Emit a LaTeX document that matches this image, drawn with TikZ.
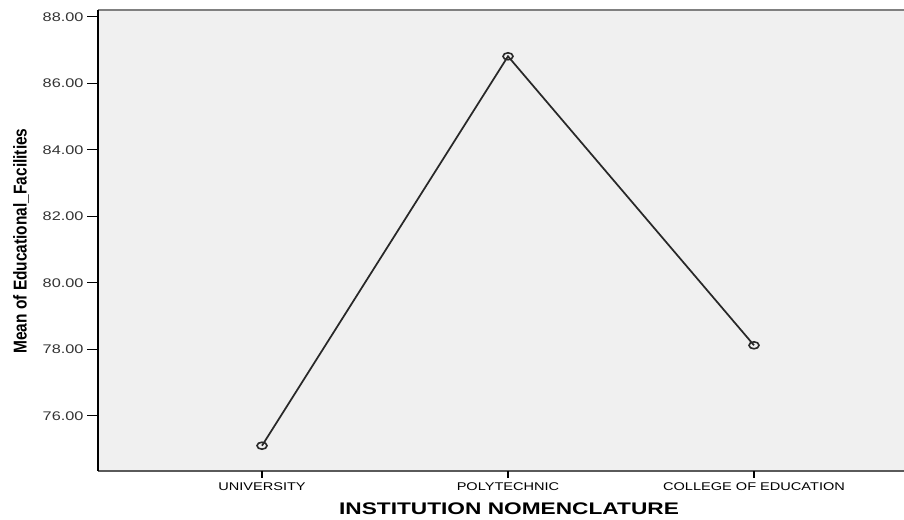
\documentclass[tikz,border=0pt]{standalone}
\usepackage{graphicx}
\usepackage{fontspec}
\setmainfont{Liberation Sans}

\definecolor{plotbg}{RGB}{240,240,240}
\definecolor{framegray}{RGB}{128,128,128}
\newcommand{\spss}[1]{\scalebox{1.3}[1]{#1}}

\tikzset{every picture/.style={line width=0.75pt}}

\begin{document}
\begin{tikzpicture}[x=0.75pt,y=0.75pt,yscale=-1,xscale=1]
  \useasboundingbox (0,0) rectangle (904,520);

  %Shape: Rectangle [id:plotarea]
  \fill [plotbg] (98,10) rectangle (904,471);
  %Straight Lines [id:topframe]
  \draw [color=framegray, line width=1.5]  (98,10.5) -- (904,10.5) ;
  %Straight Lines [id:xaxis]
  \draw [color=framegray!70!black, line width=1.5]  (98,471) -- (904,471) ;
  %Straight Lines [id:yaxis]
  \draw [line width=1.2]  (98,10) -- (98,471.5) ;

  %Straight Lines [id:yticks]
  \draw    (87,16.7) -- (98,16.7) ;
  \draw    (87,83.2) -- (98,83.2) ;
  \draw    (87,149.7) -- (98,149.7) ;
  \draw    (87,216.2) -- (98,216.2) ;
  \draw    (87,282.7) -- (98,282.7) ;
  \draw    (87,349.2) -- (98,349.2) ;
  \draw    (87,415.7) -- (98,415.7) ;
  %Straight Lines [id:xticks]
  \draw [line width=1.2]   (262,471) -- (262,478) ;
  \draw [line width=1.2]   (508,471) -- (508,478) ;
  \draw [line width=1.2]   (754,471) -- (754,478) ;

  % Data points
  \coordinate (univ) at (262,445.7);
  \coordinate (poly) at (508,56.3);
  \coordinate (coll) at (754,345.3);
  %Straight Lines [id:meanline]
  \draw [color={rgb, 255:red, 40; green, 40; blue, 40 }, line width=1.3]  (univ) -- (poly) -- (coll) ;
  %Shape: Ellipse [id:markers]
  \draw [color={rgb, 255:red, 40; green, 40; blue, 40 }, line width=1.2]  (univ) ellipse (5 and 3.5) ;
  \draw [color={rgb, 255:red, 40; green, 40; blue, 40 }, line width=1.2]  (poly) ellipse (5 and 3.5) ;
  \draw [color={rgb, 255:red, 40; green, 40; blue, 40 }, line width=1.2]  (coll) ellipse (5 and 3.5) ;

  % Text Node
  \draw (85,16.7) node (t88) [anchor=east][inner sep=0.75pt]  [font=\fontsize{9.4}{11}\selectfont, color=black!80] {\spss{88.00}};
  % Text Node
  \draw (85,83.2) node (t86) [anchor=east][inner sep=0.75pt]  [font=\fontsize{9.4}{11}\selectfont, color=black!80] {\spss{86.00}};
  % Text Node
  \draw (85,149.7) node (t84) [anchor=east][inner sep=0.75pt]  [font=\fontsize{9.4}{11}\selectfont, color=black!80] {\spss{84.00}};
  % Text Node
  \draw (85,216.2) node (t82) [anchor=east][inner sep=0.75pt]  [font=\fontsize{9.4}{11}\selectfont, color=black!80] {\spss{82.00}};
  % Text Node
  \draw (85,282.7) node (t80) [anchor=east][inner sep=0.75pt]  [font=\fontsize{9.4}{11}\selectfont, color=black!80] {\spss{80.00}};
  % Text Node
  \draw (85,349.2) node (t78) [anchor=east][inner sep=0.75pt]  [font=\fontsize{9.4}{11}\selectfont, color=black!80] {\spss{78.00}};
  % Text Node
  \draw (85,415.7) node (t76) [anchor=east][inner sep=0.75pt]  [font=\fontsize{9.4}{11}\selectfont, color=black!80] {\spss{76.00}};

  % Text Node
  \draw (262,487) node (lunivers) [inner sep=0.75pt]  [font=\fontsize{8.4}{10}\selectfont] {\spss{UNIVERSITY}};
  % Text Node
  \draw (508,487) node (lpoly) [inner sep=0.75pt]  [font=\fontsize{8.4}{10}\selectfont] {\spss{POLYTECHNIC}};
  % Text Node
  \draw (754,487) node (lcoll) [inner sep=0.75pt]  [font=\fontsize{8.4}{10}\selectfont] {\spss{COLLEGE OF EDUCATION}};

  % Text Node
  \draw (509,509) node (xtitle) [inner sep=0.75pt]  [font=\bfseries\fontsize{12.6}{14}\selectfont] {\scalebox{1.35}[1]{INSTITUTION NOMENCLATURE}};
  % Text Node
  \draw (21,241) node (ytitle) [inner sep=0.75pt, rotate=90]  [font=\bfseries\fontsize{11.6}{13}\selectfont] {\scalebox{1}[1.2]{Mean of Educational\_Facilities}};

\end{tikzpicture}
\end{document}
